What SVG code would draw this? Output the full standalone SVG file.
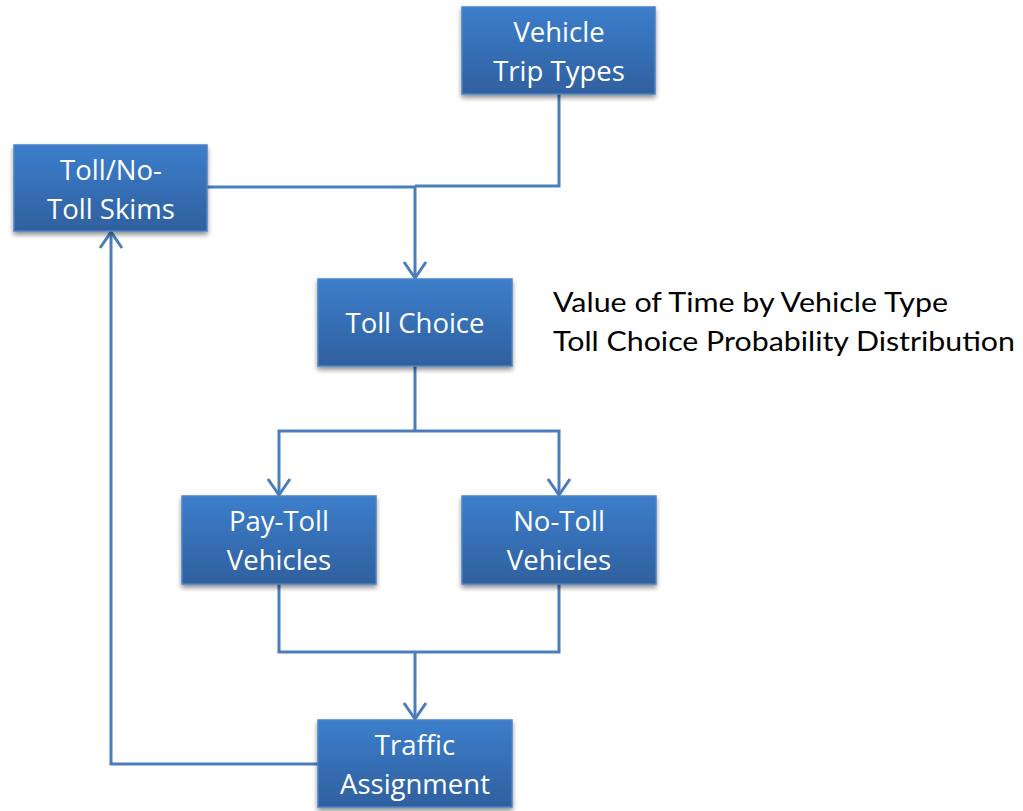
<svg xmlns="http://www.w3.org/2000/svg" width="1023" height="811" viewBox="0 0 1023 811">
  <defs>
    <linearGradient id="boxFill" x1="0" y1="0" x2="0" y2="1">
      <stop offset="0" stop-color="#3c7ecb"/>
      <stop offset="1" stop-color="#2f609f"/>
    </linearGradient>
    <filter id="shadow" x="-10%" y="-10%" width="120%" height="130%">
      <feGaussianBlur in="SourceAlpha" stdDeviation="2.5"/>
      <feOffset dx="0" dy="3" result="b"/>
      <feComponentTransfer><feFuncA type="linear" slope="0.45"/></feComponentTransfer>
      <feMerge><feMergeNode/><feMergeNode in="SourceGraphic"/></feMerge>
    </filter>
    <!-- open V arrowhead, drawn along +x so orient="auto" follows the line -->
    <marker id="arrow" viewBox="0 0 20 26" markerWidth="20" markerHeight="26" refX="18" refY="13" orient="auto" markerUnits="userSpaceOnUse">
      <path d="M2,2 L18,13 L2,24" fill="none" stroke="#4a7ebb" stroke-width="3"/>
    </marker>
  </defs>
  <style>
    .box { fill: url(#boxFill); stroke: #4b82c4; stroke-width: 1.5; filter: url(#shadow); }
    .label { font-family: "Open Sans", "Liberation Sans", sans-serif; font-size: 27.5px; fill: #ffffff; text-anchor: middle; }
    .wire { fill: none; stroke: #4a7ebb; stroke-width: 3; }
    .note { font-family: "Lato", "Liberation Sans", sans-serif; font-size: 26px; fill: #000000; }
  </style>
  <rect width="1023" height="811" fill="#ffffff"/>

  <g id="connectors">
    <!-- trip types + skims merge into toll choice -->
    <path class="wire" d="M559,94 V186 H415"/>
    <path class="wire" d="M207,187 H415 V278" marker-end="url(#arrow)"/>
    <!-- toll choice splits -->
    <path class="wire" d="M415,366 V431"/>
    <path class="wire" d="M415,431 H279 V495" marker-end="url(#arrow)"/>
    <path class="wire" d="M415,431 H559 V495" marker-end="url(#arrow)"/>
    <!-- vehicles merge into assignment -->
    <path class="wire" d="M279,584 V652 H559 V584"/>
    <path class="wire" d="M415,652 V719" marker-end="url(#arrow)"/>
    <!-- feedback loop to skims -->
    <path class="wire" d="M318,764 H111 V232" marker-end="url(#arrow)"/>
  </g>

  <g id="vehicle-trip-types">
    <rect class="box" x="462" y="7" width="193" height="87"/>
    <text class="label" x="559" y="42">Vehicle</text>
    <text class="label" x="559" y="81">Trip Types</text>
  </g>
  <g id="toll-no-toll-skims">
    <rect class="box" x="14" y="145" width="193" height="86"/>
    <text class="label" x="111" y="180">Toll/No-</text>
    <text class="label" x="111" y="219">Toll Skims</text>
  </g>
  <g id="toll-choice">
    <rect class="box" x="318" y="279" width="194" height="87"/>
    <text class="label" x="415" y="333">Toll Choice</text>
  </g>
  <g id="pay-toll-vehicles">
    <rect class="box" x="182" y="496" width="194" height="88"/>
    <text class="label" x="279" y="531">Pay-Toll</text>
    <text class="label" x="279" y="570">Vehicles</text>
  </g>
  <g id="no-toll-vehicles">
    <rect class="box" x="462" y="496" width="194" height="88"/>
    <text class="label" x="559" y="531">No-Toll</text>
    <text class="label" x="559" y="570">Vehicles</text>
  </g>
  <g id="traffic-assignment">
    <rect class="box" x="318" y="720" width="194" height="87"/>
    <text class="label" x="415" y="755">Traffic</text>
    <text class="label" x="415" y="794">Assignment</text>
  </g>

  <g id="notes">
    <text class="note" x="553" y="312" textLength="395" lengthAdjust="spacingAndGlyphs">Value of Time by Vehicle Type</text>
    <text class="note" x="553" y="351" textLength="462" lengthAdjust="spacingAndGlyphs">Toll Choice Probability Distribution</text>
  </g>
</svg>
